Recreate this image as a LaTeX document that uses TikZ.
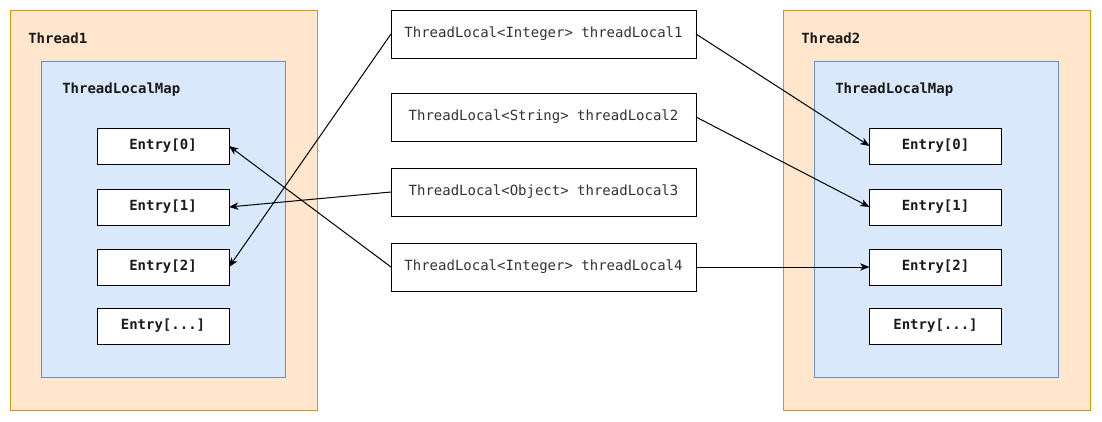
\documentclass[tikz,border=0pt]{standalone}
\usepackage{fontspec}
\setmonofont{DejaVu Sans Mono}
\usepackage{tikz}
\usetikzlibrary{positioning,arrows.meta}
\usepackage{xcolor}
\definecolor{thrFill}{HTML}{FFE6CC}
\definecolor{thrLine}{HTML}{D79B00}
\definecolor{mapFill}{HTML}{DAE8FC}
\definecolor{mapLine}{HTML}{6C8EBF}
\definecolor{txtDark}{HTML}{1A1A1A}
\definecolor{txtGray}{HTML}{333333}

\begin{document}
\begin{tikzpicture}[
      x=0.75pt,y=-0.75pt,
      threadbox/.style={draw=thrLine,line width=0.75pt,fill=thrFill,
                  minimum width=230.25pt,minimum height=300pt,inner sep=0pt,outer sep=0pt},
      mapbox/.style={draw=mapLine,line width=0.75pt,fill=mapFill,
                  minimum width=183pt,minimum height=237pt,inner sep=0pt,outer sep=0pt},
      entrybox/.style={draw=black,line width=0.75pt,fill=white,
                  minimum width=99pt,minimum height=27pt,inner sep=0pt,outer sep=0pt,
                  font=\ttfamily\bfseries\fontsize{10.5}{12}\selectfont\color{txtDark}},
      localbox/.style={draw=black,line width=0.75pt,fill=white,
                  minimum width=228.75pt,minimum height=36pt,inner sep=0pt,outer sep=0pt,
                  font=\ttfamily\fontsize{10.5}{12}\selectfont\color{txtGray}},
      lbl/.style={anchor=west,inner sep=0pt,
                  font=\ttfamily\bfseries\fontsize{10.5}{12}\selectfont\color{txtDark}},
      arr/.style={-{Stealth[length=7pt,width=5.5pt,inset=2pt]},line width=0.75pt,black}]
    \useasboundingbox (0,0) rectangle (1102,421);
    % thread 1
    \node[threadbox] (t1) at (163.5,210) {};
    \node[lbl] (t1lbl) at (28,38) {Thread1};
    \node[mapbox] (m1) at (163,219) {};
    \node[lbl] (m1lbl) at (62,90) {ThreadLocalMap};
    \node[entrybox] (a0) at (163,146) {Entry[0]};
    \node[entrybox] (a1) at (163,207) {Entry[1]};
    \node[entrybox] (a2) at (163,267) {Entry[2]};
    \node[entrybox] (a3) at (163,326) {Entry[...]};
    % thread 2
    \node[threadbox] (t2) at (936.5,210) {};
    \node[lbl] (t2lbl) at (801,38) {Thread2};
    \node[mapbox] (m2) at (936,219) {};
    \node[lbl] (m2lbl) at (835,90) {ThreadLocalMap};
    \node[entrybox] (b0) at (935.5,146) {Entry[0]};
    \node[entrybox] (b1) at (935.5,207) {Entry[1]};
    \node[entrybox] (b2) at (935.5,267) {Entry[2]};
    \node[entrybox] (b3) at (935.5,326) {Entry[...]};
    % thread locals
    \node[localbox] (tl1) at (543.5,34)  {ThreadLocal<Integer> threadLocal1};
    \node[localbox] (tl2) at (543.5,117) {ThreadLocal<String> threadLocal2};
    \node[localbox] (tl3) at (543.5,192) {ThreadLocal<Object> threadLocal3};
    \node[localbox] (tl4) at (543.5,267) {ThreadLocal<Integer> threadLocal4};
    \draw[arr] (tl1.west) -- (a2.east);
    \draw[arr] (tl3.west) -- (a1.east);
    \draw[arr] (tl4.west) -- (a0.east);
    \draw[arr] (tl1.east) -- (b0.west);
    \draw[arr] (tl2.east) -- (b1.west);
    \draw[arr] (tl4.east) -- (b2.west);
  \end{tikzpicture}
\end{document}
